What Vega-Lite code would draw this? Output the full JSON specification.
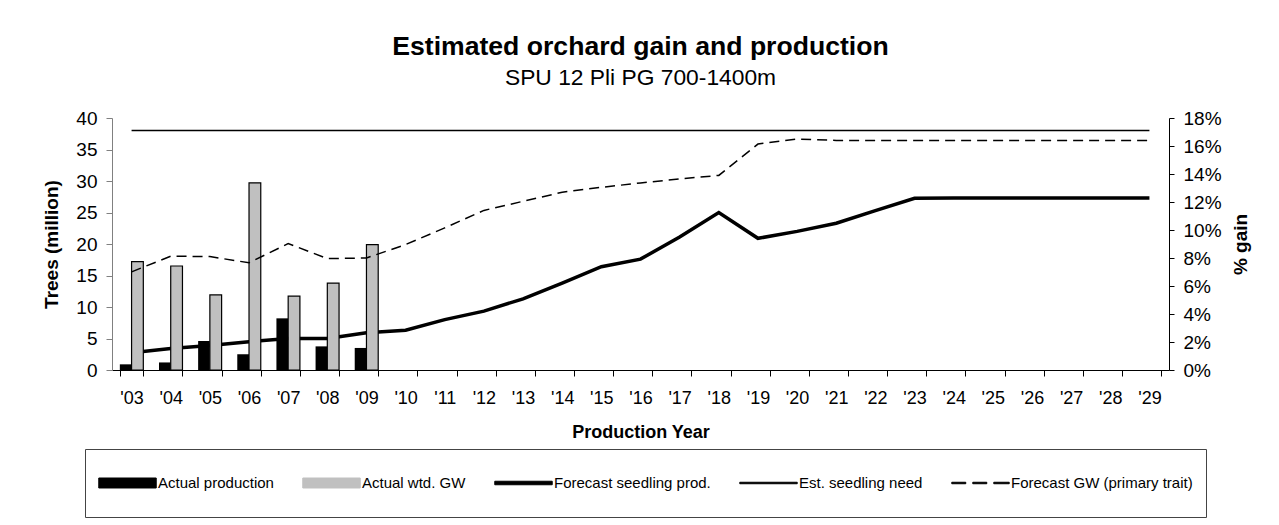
{
  "$schema": "https://vega.github.io/schema/vega-lite/v6.json",
  "autosize": {"type": "none"},
  "padding": {"left": 112, "top": 118, "right": 110, "bottom": 155},
  "width": 1057,
  "height": 252,
  "background": "white",
  "config": {
    "font": "Liberation Sans",
    "view": {"stroke": null},
    "axis": {"labelFont": "Liberation Sans", "titleFont": "Liberation Sans", "labelColor": "black", "titleColor": "black", "domainColor": "black", "tickColor": "black", "grid": false}
  },
  "title": {
    "text": "Estimated orchard gain and production",
    "subtitle": "SPU 12 Pli PG 700-1400m",
    "font": "Liberation Sans",
    "fontSize": 26.6,
    "fontWeight": "bold",
    "color": "black",
    "subtitleFont": "Liberation Sans",
    "subtitleFontSize": 22.8,
    "subtitleColor": "black",
    "subtitlePadding": 7,
    "anchor": "middle",
    "frame": "group",
    "offset": 19
  },
  "data": {"values": [
    {"year": "'03", "prod": 0.9, "gw": 0.0774, "seed": 2.75, "need": 38, "gwf": 0.0701},
    {"year": "'04", "prod": 1.2, "gw": 0.0743, "seed": 3.4, "need": 38, "gwf": 0.0813},
    {"year": "'05", "prod": 4.6, "gw": 0.0536, "seed": 3.9, "need": 38, "gwf": 0.081},
    {"year": "'06", "prod": 2.5, "gw": 0.1337, "seed": 4.5, "need": 38, "gwf": 0.0766},
    {"year": "'07", "prod": 8.2, "gw": 0.0527, "seed": 5.0, "need": 38, "gwf": 0.0903},
    {"year": "'08", "prod": 3.75, "gw": 0.0621, "seed": 5.0, "need": 38, "gwf": 0.0796},
    {"year": "'09", "prod": 3.5, "gw": 0.0896, "seed": 5.9, "need": 38, "gwf": 0.080},
    {"year": "'10", "prod": null, "gw": null, "seed": 6.3, "need": 38, "gwf": 0.0896},
    {"year": "'11", "prod": null, "gw": null, "seed": 8.0, "need": 38, "gwf": 0.1015},
    {"year": "'12", "prod": null, "gw": null, "seed": 9.35, "need": 38, "gwf": 0.114},
    {"year": "'13", "prod": null, "gw": null, "seed": 11.3, "need": 38, "gwf": 0.1205},
    {"year": "'14", "prod": null, "gw": null, "seed": 13.8, "need": 38, "gwf": 0.127},
    {"year": "'15", "prod": null, "gw": null, "seed": 16.4, "need": 38, "gwf": 0.1305},
    {"year": "'16", "prod": null, "gw": null, "seed": 17.6, "need": 38, "gwf": 0.1336},
    {"year": "'17", "prod": null, "gw": null, "seed": 21.1, "need": 38, "gwf": 0.1365},
    {"year": "'18", "prod": null, "gw": null, "seed": 25.0, "need": 38, "gwf": 0.139},
    {"year": "'19", "prod": null, "gw": null, "seed": 20.9, "need": 38, "gwf": 0.1614},
    {"year": "'20", "prod": null, "gw": null, "seed": 22.0, "need": 38, "gwf": 0.165},
    {"year": "'21", "prod": null, "gw": null, "seed": 23.3, "need": 38, "gwf": 0.164},
    {"year": "'22", "prod": null, "gw": null, "seed": 25.3, "need": 38, "gwf": 0.164},
    {"year": "'23", "prod": null, "gw": null, "seed": 27.26, "need": 38, "gwf": 0.164},
    {"year": "'24", "prod": null, "gw": null, "seed": 27.3, "need": 38, "gwf": 0.164},
    {"year": "'25", "prod": null, "gw": null, "seed": 27.3, "need": 38, "gwf": 0.164},
    {"year": "'26", "prod": null, "gw": null, "seed": 27.3, "need": 38, "gwf": 0.164},
    {"year": "'27", "prod": null, "gw": null, "seed": 27.3, "need": 38, "gwf": 0.164},
    {"year": "'28", "prod": null, "gw": null, "seed": 27.3, "need": 38, "gwf": 0.164},
    {"year": "'29", "prod": null, "gw": null, "seed": 27.3, "need": 38, "gwf": 0.164}
  ]},
  "encoding": {
    "x": {
      "field": "year", "type": "ordinal", "sort": null,
      "scale": {"paddingInner": 0.4, "paddingOuter": 0.2},
      "axis": {"title": "Production Year", "labelAngle": 0, "labelFontSize": 18, "titleFontSize": 18, "titleFontWeight": "bold", "tickBand": "extent", "tickSize": 6, "labelPadding": 13, "titlePadding": 16, "domainWidth": 1, "tickWidth": 1}
    }
  },
  "layer": [
    {
      "mark": {"type": "bar"},
      "encoding": {
        "y": {"field": "prod", "type": "quantitative", "stack": null, "scale": {"domain": [0, 40], "nice": false, "zero": true},
          "axis": {"title": "Trees (million)", "orient": "left", "values": [0, 5, 10, 15, 20, 25, 30, 35, 40], "labelOverlap": false, "labelFontSize": 19, "titleFontSize": 19, "titleFontWeight": "bold", "domainColor": "#808080", "tickColor": "#808080", "tickSize": 6, "labelPadding": 9, "titlePadding": 14}},
        "xOffset": {"datum": "Actual production", "scale": {"domain": ["Actual production", "Actual wtd. GW"], "paddingInner": 0, "paddingOuter": 0}},
        "color": {
          "datum": "Actual production", "type": "nominal",
          "scale": {"domain": ["Actual production", "Actual wtd. GW", "Forecast seedling prod.", "Est. seedling need", "Forecast GW (primary trait)"], "range": ["black", "#c0c0c0", "black", "black", "black"]},
          "legend": {
            "title": null, "orient": "none", "legendX": -27, "legendY": 331,
            "direction": "horizontal", "columns": 5, "columnPadding": 28,
            "symbolSize": 3300, "symbolStrokeWidth": 1,
            "labelFont": "Liberation Sans", "labelFontSize": 15, "labelColor": "black", "labelOffset": 1, "labelLimit": 400,
            "strokeColor": "#444444", "padding": 13, "clipHeight": 42,
            "encode": {
              "symbols": {"update": {
                "size": {"value": 3300},
                "strokeWidth": {"value": 1},
                "shape": {"signal": "datum.value === 'Actual production' || datum.value === 'Actual wtd. GW' ? 'M-1,-0.174H1V0.174H-1Z' : datum.value === 'Forecast seedling prod.' ? 'M-1,-0.061H1V0.061H-1Z' : datum.value === 'Est. seedling need' ? 'M-1,-0.026H1V0.026H-1Z' : 'M-1,-0.026H-0.5125V0.026H-1Z M-0.269,-0.026H0.219V0.026H-0.269Z M0.462,-0.026H1V0.026H0.462Z'"},
                "fill": {"signal": "datum.value === 'Actual wtd. GW' ? '#c0c0c0' : 'black'"},
                "stroke": {"signal": "datum.value === 'Actual wtd. GW' ? 'black' : 'transparent'"},
                "opacity": {"value": 1},
                "fillOpacity": {"value": 1},
                "strokeOpacity": {"value": 1}
              }}
            }
          }
        }
      }
    },
    {
      "mark": {"type": "line", "strokeWidth": 3.5, "strokeJoin": "miter"},
      "encoding": {
        "y": {"field": "seed", "type": "quantitative", "scale": {"domain": [0, 40], "nice": false}, "axis": null},
        "color": {"datum": "Forecast seedling prod.", "type": "nominal"}
      }
    },
    {
      "mark": {"type": "line", "strokeWidth": 1.5},
      "encoding": {
        "y": {"field": "need", "type": "quantitative", "scale": {"domain": [0, 40], "nice": false}, "axis": null},
        "color": {"datum": "Est. seedling need", "type": "nominal"}
      }
    },
    {
      "mark": {"type": "bar", "stroke": "black", "strokeWidth": 1.2},
      "encoding": {
        "y": {"field": "gw", "type": "quantitative", "stack": null, "scale": {"domain": [0, 0.18], "nice": false},
          "axis": {"title": "% gain", "orient": "right", "format": ".0%", "values": [0, 0.02, 0.04, 0.06, 0.08, 0.1, 0.12, 0.14, 0.16, 0.18], "labelOverlap": false, "labelFontSize": 19, "titleFontSize": 19, "titleFontWeight": "bold", "titleAngle": -90, "titleBaseline": "top", "tickSize": 5, "labelPadding": 9, "titlePadding": 10}},
        "xOffset": {"datum": "Actual wtd. GW"},
        "color": {"datum": "Actual wtd. GW", "type": "nominal"}
      }
    },
    {
      "mark": {"type": "line", "strokeWidth": 1.5, "strokeDash": [10, 6]},
      "encoding": {
        "y": {"field": "gwf", "type": "quantitative", "scale": {"domain": [0, 0.18], "nice": false}, "axis": null},
        "color": {"datum": "Forecast GW (primary trait)", "type": "nominal"}
      }
    }
  ],
  "resolve": {"scale": {"y": "independent"}}
}
